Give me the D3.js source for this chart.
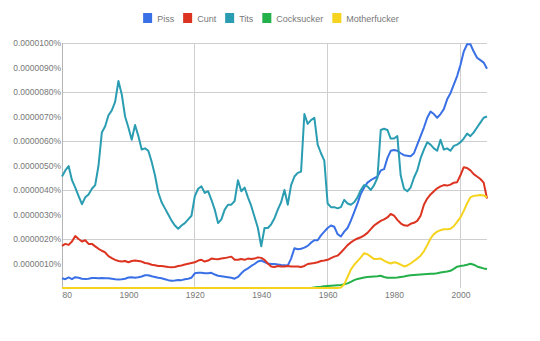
<!DOCTYPE html>
<html>
<head>
<meta charset="utf-8">
<script src="https://cdn.jsdelivr.net/npm/d3@7"></script>
<style>
  html, body { margin: 0; padding: 0; background: #fff; }
  svg { display: block; font-family: "Liberation Sans", Arial, sans-serif; }
</style>
</head>
<body>
<svg id="chart" width="540" height="341"></svg>
<script>
const years = d3.range(1880, 2009);
const seriesNames = ["Piss", "Cunt", "Tits", "Cocksucker", "Motherfucker"];
const seriesColors = ["#3a70e6", "#dc3420", "#2b9db2", "#24b04a", "#f5d31e"];

// values in units of 0.0000001% (i.e. 1 = 0.0000010%)
const piss = [
  0.40,0.36,0.43,0.36,0.44,0.42,0.38,0.37,0.38,0.41,
  0.41,0.40,0.41,0.40,0.40,0.38,0.36,0.35,0.36,0.38,
  0.43,0.44,0.42,0.44,0.47,0.52,0.52,0.48,0.45,0.42,
  0.40,0.36,0.32,0.30,0.31,0.33,0.32,0.36,0.38,0.42,
  0.60,0.62,0.62,0.60,0.60,0.62,0.55,0.50,0.48,0.46,
  0.44,0.42,0.38,0.45,0.60,0.72,0.80,0.90,0.98,1.08,
  1.12,1.06,1.00,0.98,0.98,0.96,0.94,0.93,0.92,1.20,
  1.62,1.58,1.60,1.65,1.72,1.85,1.95,1.95,2.15,2.30,
  2.45,2.55,2.50,2.20,2.10,2.30,2.45,2.75,3.10,3.45,
  3.85,4.10,4.30,4.40,4.48,4.55,4.80,4.85,5.30,5.60,
  5.63,5.60,5.50,5.42,5.40,5.38,5.50,5.85,6.20,6.55,
  6.95,7.20,7.10,6.95,7.10,7.30,7.70,7.95,8.30,8.65,
  9.10,9.65,9.95,9.95,9.65,9.40,9.30,9.20,8.95
];
const cunt = [
  1.72,1.80,1.76,1.90,2.12,2.00,1.90,1.95,1.80,1.80,
  1.70,1.60,1.52,1.45,1.30,1.22,1.15,1.10,1.08,1.10,
  1.05,1.10,1.12,1.10,1.08,1.02,1.00,0.95,0.93,0.90,
  0.90,0.88,0.86,0.85,0.86,0.90,0.92,0.96,0.99,1.02,
  1.05,1.12,1.15,1.08,1.12,1.20,1.18,1.17,1.20,1.22,
  1.25,1.28,1.15,1.15,1.18,1.15,1.20,1.18,1.20,1.25,
  1.23,1.15,1.00,0.88,0.86,0.90,0.88,0.88,0.90,0.88,
  0.88,0.88,0.86,0.90,0.98,1.00,1.02,1.05,1.10,1.12,
  1.15,1.22,1.28,1.32,1.45,1.60,1.75,1.86,1.95,2.02,
  2.07,2.15,2.25,2.40,2.55,2.65,2.74,2.80,2.88,3.02,
  2.95,2.78,2.64,2.56,2.54,2.62,2.66,2.74,2.95,3.40,
  3.65,3.82,3.95,4.07,4.15,4.20,4.18,4.22,4.30,4.32,
  4.60,4.93,4.90,4.80,4.65,4.55,4.45,4.30,3.65
];
const tits = [
  4.55,4.80,4.98,4.40,4.10,3.75,3.42,3.70,3.82,4.05,
  4.20,5.00,6.35,6.60,7.05,7.25,7.60,8.45,7.90,7.00,
  6.55,6.05,6.65,6.20,5.65,5.70,5.60,5.15,4.60,3.90,
  3.50,3.25,3.00,2.75,2.55,2.42,2.55,2.65,2.80,2.95,
  3.75,4.05,4.15,3.88,3.95,3.60,3.20,2.65,2.80,3.20,
  3.40,3.40,3.55,4.40,3.95,4.10,3.70,3.35,2.90,2.45,
  1.70,2.45,2.45,2.60,2.85,3.20,3.50,4.00,3.40,4.20,
  4.55,4.70,4.75,7.10,6.70,6.85,6.95,5.85,5.50,5.20,
  3.45,3.30,3.30,3.25,3.30,3.60,3.45,3.40,3.50,3.70,
  4.00,4.20,4.15,4.00,4.20,4.50,6.45,6.50,6.45,6.10,
  6.10,6.20,4.60,4.05,3.95,4.10,4.50,4.80,5.30,5.65,
  5.95,5.85,5.70,5.60,6.05,5.65,5.70,5.60,5.80,5.85,
  5.95,6.10,6.30,6.20,6.35,6.55,6.75,6.95,7.00
];
const cocksucker = [
  0,0,0,0,0,0,0,0,0,0,
  0,0,0,0,0,0,0,0,0,0,
  0,0,0,0,0,0,0,0,0,0,
  0,0,0,0,0,0,0,0,0,0,
  0,0,0,0,0,0,0,0,0,0,
  0,0,0,0,0,0,0,0,0,0,
  0,0,0,0,0,0,0,0,0,0,
  0,0,0,0,0,0,0.02,0.04,0.05,0.07,
  0.08,0.09,0.10,0.11,0.12,0.15,0.19,0.25,0.32,0.37,
  0.40,0.43,0.45,0.46,0.47,0.48,0.50,0.45,0.42,0.42,
  0.42,0.43,0.45,0.47,0.50,0.52,0.53,0.54,0.55,0.56,
  0.57,0.58,0.58,0.60,0.63,0.65,0.67,0.70,0.78,0.87,
  0.90,0.92,0.95,0.99,0.95,0.88,0.84,0.80,0.78
];
const motherfucker = [
  0,0,0,0,0,0,0,0,0,0,
  0,0,0,0,0,0,0,0,0,0,
  0,0,0,0,0,0,0,0,0,0,
  0,0,0,0,0,0,0,0,0,0,
  0,0,0,0,0,0,0,0,0,0,
  0,0,0,0,0,0,0,0,0,0,
  0,0,0,0,0,0,0,0,0,0,
  0,0,0,0,0,0,0,0,0,0,
  0,0,0,0,0.02,0.15,0.45,0.75,0.95,1.10,
  1.25,1.42,1.38,1.28,1.18,1.18,1.20,1.12,1.05,1.00,
  1.05,1.02,0.95,0.88,0.92,1.00,1.10,1.20,1.32,1.50,
  1.75,2.02,2.20,2.30,2.36,2.40,2.40,2.42,2.52,2.70,
  2.88,3.15,3.45,3.70,3.76,3.78,3.80,3.78,3.70
];
const yTickValues = [1,2,3,4,5,6,7,8,9,10];
const yGridValues = [2,4,6,8,10];
const xTickValues = [1880,1900,1920,1940,1960,1980,2000];
const xGridValues = [1920,1960,2000];

const seriesValues = [piss, cunt, tits, cocksucker, motherfucker];

const svg = d3.select("#chart");
const x = d3.scaleLinear().domain([1880, 2008]).range([62, 487]);
const y = d3.scaleLinear().domain([0, 10]).range([288, 43]);

// gridlines
svg.append("g").selectAll("line").data(yGridValues).join("line")
  .attr("x1", x(1880)).attr("x2", x(2008))
  .attr("y1", d => y(d)).attr("y2", d => y(d))
  .attr("stroke", "#cfcfcf").attr("stroke-width", 1).attr("shape-rendering", "crispEdges");
svg.append("g").selectAll("line").data(xGridValues).join("line")
  .attr("x1", d => x(d)).attr("x2", d => x(d))
  .attr("y1", y(10)).attr("y2", y(0))
  .attr("stroke", "#cfcfcf").attr("stroke-width", 1).attr("shape-rendering", "crispEdges");
svg.append("line")
  .attr("x1", x(1880)).attr("x2", x(1880)).attr("y1", y(10)).attr("y2", y(0))
  .attr("stroke", "#b5b5b5").attr("stroke-width", 1).attr("shape-rendering", "crispEdges");

// y axis
const yAxis = d3.axisLeft(y).tickValues(yTickValues).tickSize(0).tickPadding(1)
  .tickFormat(d => (d * 1e-6).toFixed(7) + "%");
const gy = svg.append("g").attr("transform", `translate(${x(1880)},0)`).call(yAxis);
gy.select(".domain").remove();
gy.selectAll("text").attr("fill", "#777").style("font-size", "8.5px")
  .style("font-family", "'Liberation Sans', Arial, sans-serif");

// x axis (clipped like the original, "1880" shows only "80")
svg.append("clipPath").attr("id", "xclip").append("rect")
  .attr("x", x(1880)).attr("y", 280).attr("width", 480).attr("height", 40);
const xAxis = d3.axisBottom(x).tickValues(xTickValues).tickSize(0).tickPadding(4)
  .tickFormat(d3.format("d"));
const gx = svg.append("g").attr("clip-path", "url(#xclip)")
  .append("g").attr("transform", `translate(0,${y(0)})`).call(xAxis);
gx.select(".domain").remove();
gx.selectAll("text").attr("fill", "#777").style("font-size", "8.5px")
  .style("font-family", "'Liberation Sans', Arial, sans-serif");

// lines
const line = d3.line().x((d, i) => x(years[i])).y(d => y(d)).curve(d3.curveLinear);
svg.append("g").selectAll("path").data(seriesValues).join("path")
  .attr("d", d => line(d))
  .attr("fill", "none")
  .attr("stroke", (d, i) => seriesColors[i])
  .attr("stroke-width", 2)
  .attr("stroke-linejoin", "round");

// legend
const legend = svg.append("g");
const items = legend.selectAll("g").data(seriesNames).join("g");
items.append("rect").attr("width", 9).attr("height", 10).attr("y", 13)
  .attr("fill", (d, i) => seriesColors[i]);
items.append("text").text(d => d).attr("x", 14).attr("y", 21.5)
  .attr("fill", "#777").style("font-size", "9px");
let cx = 0;
const offsets = [];
items.each(function() {
  offsets.push(cx);
  const w = d3.select(this).select("text").node().getComputedTextLength();
  cx += 14 + w + 9;
});
const totalW = cx - 9;
const startX = 271 - totalW / 2;
items.attr("transform", (d, i) => `translate(${startX + offsets[i]},0)`);
</script>
</body>
</html>
